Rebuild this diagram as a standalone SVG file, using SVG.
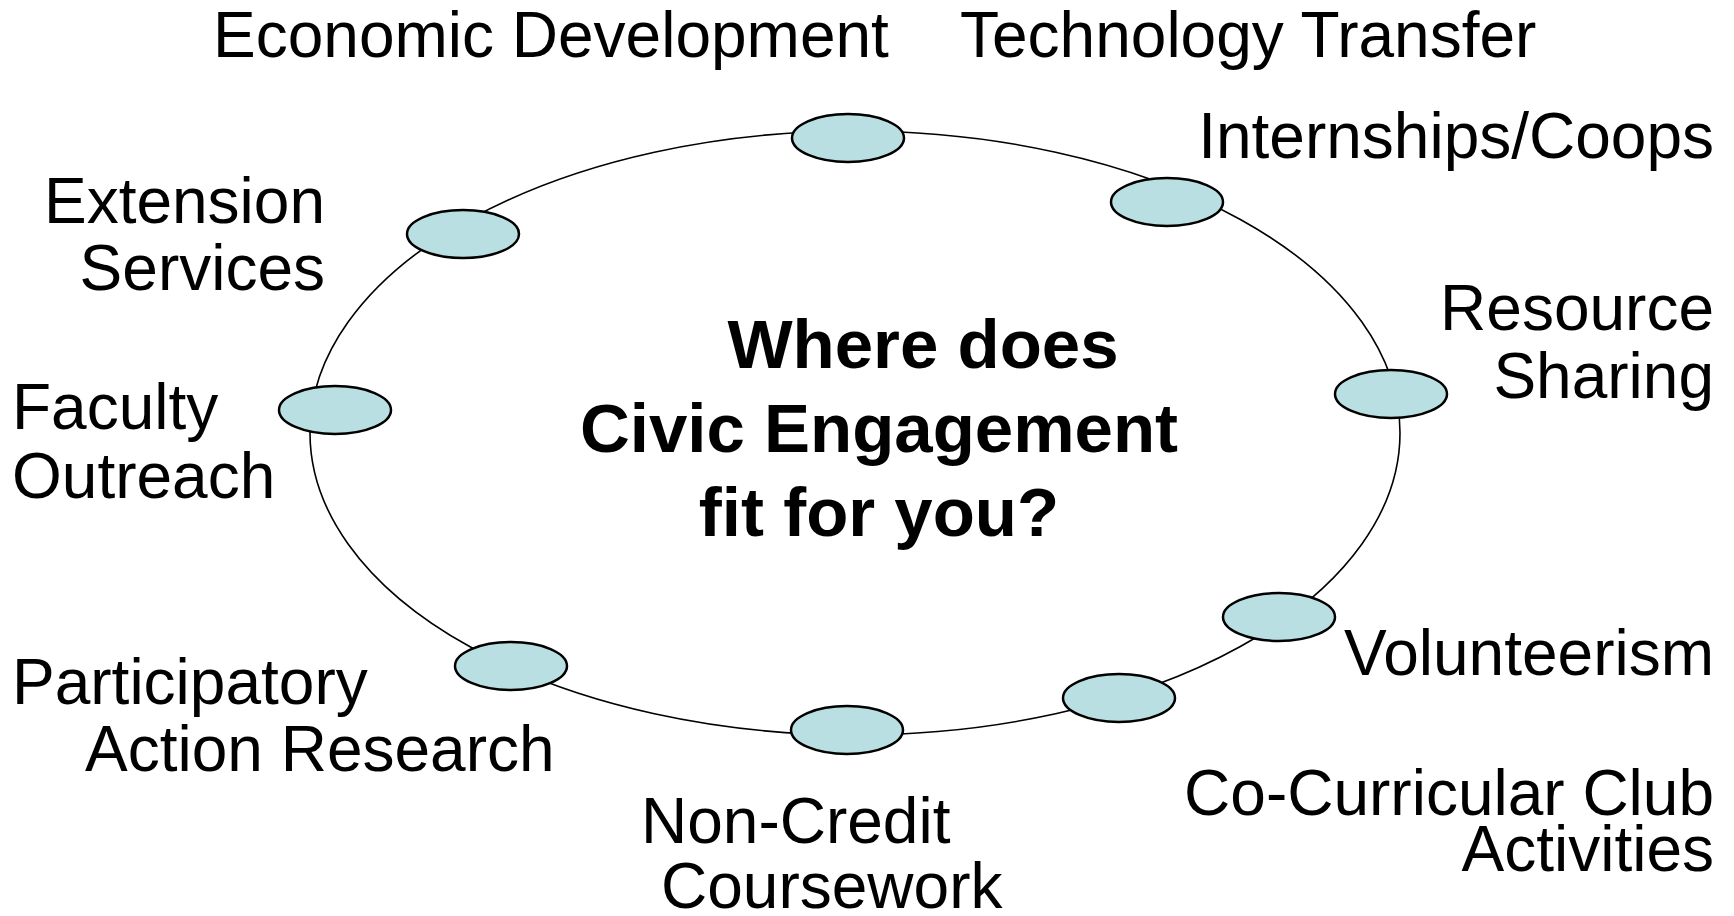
<svg xmlns="http://www.w3.org/2000/svg" width="1734" height="916" viewBox="0 0 1734 916">
<style>
.n{fill:#badfe3;stroke:#000;stroke-width:2.5}
.t{font-family:"Liberation Sans",Arial,sans-serif;font-size:64px;fill:#000}
.b{font-family:"Liberation Sans",Arial,sans-serif;font-size:69px;font-weight:bold;fill:#000}
</style>
<rect width="1734" height="916" fill="#fff"/>
<g id="connectors">
<ellipse cx="855" cy="433" rx="545" ry="302" fill="none" stroke="#000" stroke-width="1.6"/>
</g>
<g id="center"><text class="b" text-anchor="middle"><tspan x="923" y="368">Where does</tspan><tspan x="879" y="452">Civic Engagement</tspan><tspan x="879" y="536">fit for you?</tspan></text></g>
<g id="n-econ"><ellipse class="n" cx="848" cy="138" rx="56" ry="24"/><text class="t" x="213" y="57">Economic Development</text></g>
<g id="n-tech"><text class="t" x="960" y="57">Technology Transfer</text></g>
<g id="n-intern"><ellipse class="n" cx="1167" cy="202" rx="56" ry="24"/><text class="t" x="1714" y="158" text-anchor="end">Internships/Coops</text></g>
<g id="n-resource"><ellipse class="n" cx="1391" cy="394" rx="56" ry="24"/><text class="t" text-anchor="end"><tspan x="1714" y="330">Resource</tspan><tspan x="1714" y="398">Sharing</tspan></text></g>
<g id="n-volunteer"><ellipse class="n" cx="1279" cy="617" rx="56" ry="24"/><text class="t" x="1714" y="675" text-anchor="end">Volunteerism</text></g>
<g id="n-cocurr"><ellipse class="n" cx="1119" cy="698" rx="56" ry="24"/><text class="t" text-anchor="end"><tspan x="1714" y="815">Co-Curricular Club</tspan><tspan x="1714" y="871">Activities</tspan></text></g>
<g id="n-noncredit"><ellipse class="n" cx="847" cy="730" rx="56" ry="24"/><text class="t"><tspan x="641" y="843">Non-Credit</tspan><tspan x="661" y="908">Coursework</tspan></text></g>
<g id="n-par"><ellipse class="n" cx="511" cy="666" rx="56" ry="24"/><text class="t"><tspan x="12" y="704">Participatory</tspan><tspan x="85" y="771">Action Research</tspan></text></g>
<g id="n-faculty"><ellipse class="n" cx="335" cy="410" rx="56" ry="24"/><text class="t"><tspan x="12" y="429">Faculty</tspan><tspan x="12" y="498">Outreach</tspan></text></g>
<g id="n-extension"><ellipse class="n" cx="463" cy="234" rx="56" ry="24"/><text class="t" text-anchor="end"><tspan x="325" y="223">Extension</tspan><tspan x="325" y="290">Services</tspan></text></g>
</svg>
